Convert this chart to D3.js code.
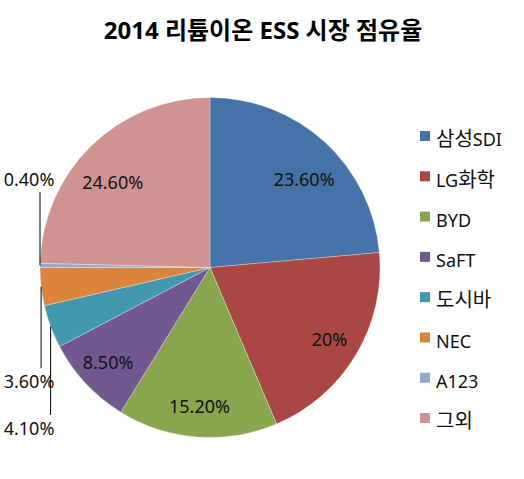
<!DOCTYPE html>
<html>
<head>
<meta charset="utf-8">
<script src="https://cdnjs.cloudflare.com/ajax/libs/d3/7.8.5/d3.min.js"></script>
<style>
  body { margin: 0; background: #fff; }
  text { font-family: "Noto Sans", "Noto Sans CJK KR", sans-serif; }
</style>
</head>
<body>
<div id="chart"></div>
<script>
var svgWidth = 524
var svgHeight = 479

// chart data
var companies = ["삼성SDI", "LG화학", "BYD", "SaFT", "도시바", "NEC", "A123", "그외"]
var shares = [23.6, 20, 15.2, 8.5, 4.1, 3.6, 0.4, 24.6]
var shareLabels = ["23.60%", "20%", "15.20%", "8.50%", "4.10%", "3.60%", "0.40%", "24.60%"]
var colors = ["#4572A7", "#AA4643", "#89A54E", "#71588F", "#4198AF", "#DB843D", "#93A9CF", "#D19392"]

// pie geometry
var cx = 210, cy = 267.5, radius = 170

var svg = d3.select("#chart")
    .append("svg")
    .attr("width", svgWidth)
    .attr("height", svgHeight)

// title
svg.append("text")
    .attr("x", 263)
    .attr("y", 39)
    .attr("text-anchor", "middle")
    .attr("font-size", 24)
    .attr("font-weight", "bold")
    .text("2014 리튬이온 ESS 시장 점유율")

var pie = d3.pie().sort(null).value(d => d)
var arcs = pie(shares)

var arc = d3.arc().innerRadius(0).outerRadius(radius)
var edgeArc = d3.arc().innerRadius(radius).outerRadius(radius)
var labelArc = d3.arc().innerRadius(radius * 0.82).outerRadius(radius * 0.82)

var pieGroup = svg.append("g")
    .attr("transform", `translate(${cx}, ${cy})`)

pieGroup.selectAll("path")
    .data(arcs)
    .enter()
    .append("path")
    .attr("d", arc)
    .attr("fill", (d, i) => colors[i])
    .attr("stroke", "#ffffff")
    .attr("stroke-opacity", 0.5)
    .attr("stroke-width", 0.6)

// small slices get labels outside with vertical leader lines
var isSmall = d => d.value < 5

// labels in the upper half sit a bit lower, like excel does it
pieGroup.selectAll("text.inLabel")
    .data(arcs.filter(d => !isSmall(d)))
    .enter()
    .append("text")
    .attr("class", "inLabel")
    .attr("x", d => labelArc.centroid(d)[0])
    .attr("y", d => {
        var c = labelArc.centroid(d)
        return c[1] < 0 ? c[1] + 15 : c[1]
    })
    .attr("dy", "0.35em")
    .attr("text-anchor", "middle")
    .attr("font-size", 18)
    .attr("fill", "#111")
    .text(d => shareLabels[d.index])

// outside labels: line goes up for the slice above the horizontal, down otherwise
var outLabelY = { 4: 415, 5: 368, 6: 192 }
var outside = arcs.filter(isSmall)

pieGroup.selectAll("line.leader")
    .data(outside)
    .enter()
    .append("line")
    .attr("class", "leader")
    .attr("x1", d => edgeArc.centroid(d)[0])
    .attr("y1", d => edgeArc.centroid(d)[1])
    .attr("x2", d => edgeArc.centroid(d)[0])
    .attr("y2", d => outLabelY[d.index] - cy)
    .attr("stroke", "#000")
    .attr("stroke-width", 1)

pieGroup.selectAll("text.outLabel")
    .data(outside)
    .enter()
    .append("text")
    .attr("class", "outLabel")
    .attr("x", 29 - cx)
    .attr("y", d => {
        var y = outLabelY[d.index] - cy
        return edgeArc.centroid(d)[1] < y ? y + 20 : y - 6
    })
    .attr("text-anchor", "middle")
    .attr("font-size", 18)
    .attr("fill", "#111")
    .text(d => shareLabels[d.index])

// legend
var legendY = d3.scalePoint()
    .domain(companies)
    .range([140, 422])

var legend = svg.selectAll("g.legend")
    .data(companies)
    .enter()
    .append("g")
    .attr("class", "legend")
    .attr("transform", d => `translate(420, ${legendY(d)})`)

legend.append("rect")
    .attr("x", 0)
    .attr("y", -9)
    .attr("width", 10)
    .attr("height", 10)
    .attr("fill", (d, i) => colors[i])

// korean glyphs are drawn a bit larger than the latin ones
var legendText = legend.append("text")
    .attr("x", 16)
    .attr("y", 0)
    .attr("dy", "0.35em")
    .attr("font-size", 18)
    .attr("fill", "#111")

legendText.selectAll("tspan")
    .data(d => d.match(/[\uAC00-\uD7A3]+|[^\uAC00-\uD7A3]+/g))
    .enter()
    .append("tspan")
    .attr("font-size", s => /[\uAC00-\uD7A3]/.test(s) ? 20 : 18)
    .text(s => s)
</script>
</body>
</html>
